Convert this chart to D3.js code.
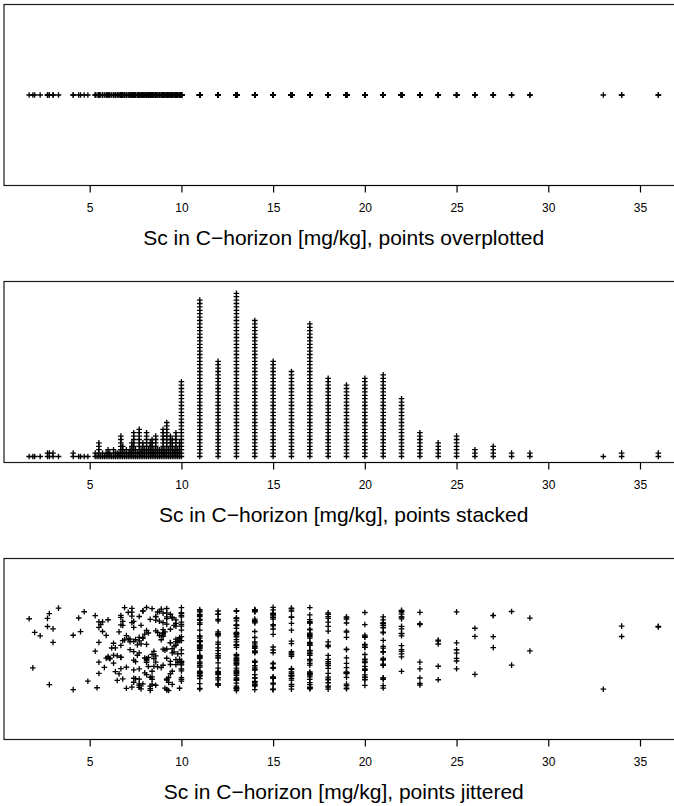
<!DOCTYPE html>
<html>
<head>
<meta charset="utf-8">
<script src="https://cdn.jsdelivr.net/npm/d3@7"></script>
<style>
  body { margin: 0; background: #fff; }
  svg { display: block; }
  text { font-family: "Liberation Sans", Arial, Helvetica, sans-serif; fill: #000; }
</style>
</head>
<body>
<svg id="chart" width="674" height="806"></svg>
<script>
// Sc in the C-horizon [mg/kg]: distinct measured values and the number of samples at each
const scValues = [
  1.7, 1.9, 2.0, 2.3, 2.7, 2.8, 3.0, 3.3,
  4.1, 4.4, 4.5, 4.7, 4.9,
  5.3, 5.4, 5.5, 5.6, 5.7, 5.8, 5.9, 6.0, 6.1, 6.2, 6.3, 6.4, 6.5, 6.6, 6.7, 6.8, 6.9, 7.0,
  7.1, 7.2, 7.3, 7.4, 7.5, 7.6, 7.7, 7.8, 7.9, 8.0, 8.1, 8.2, 8.3, 8.4, 8.5, 8.6, 8.7, 8.8, 8.9, 9.0,
  9.1, 9.2, 9.3, 9.4, 9.5, 9.6, 9.7, 9.8, 9.9,
  10, 11, 12, 13, 14, 15, 16, 17, 18, 19, 20, 21, 22, 23, 24, 25, 26, 27, 28, 29, 33, 34, 36
];
const scCounts = [
  1, 1, 1, 1, 2, 2, 2, 1,
  2, 1, 1, 1, 1,
  2, 1, 5, 1, 2, 1, 2, 3, 2, 1, 3, 2, 2, 2, 7, 4, 2, 3,
  2, 3, 5, 8, 3, 2, 9, 3, 5, 3, 8, 3, 5, 6, 3, 7, 3, 3, 3, 9,
  3, 11, 3, 7, 6, 3, 8, 3, 5,
  23, 47, 29, 49, 41, 29, 26, 40, 24, 22, 24, 25, 18, 8, 5, 7, 3, 4, 2, 2, 1, 2, 2
];
const xTicks = [5, 10, 15, 20, 25, 30, 35];
const panelTitles = [
  "Sc in C\u2212horizon [mg/kg], points overplotted",
  "Sc in C\u2212horizon [mg/kg], points stacked",
  "Sc in C\u2212horizon [mg/kg], points jittered"
];

const svg = d3.select("#chart");

// one record per sample; "level" is its position within a stack of equal values
const samples = [];
scValues.forEach((v, i) => {
  for (let k = 0; k < scCounts[i]; k++) samples.push({ value: v, level: k });
});

// jitter offsets for the third strip (seeded so the page is reproducible)
const rng = d3.randomLcg(0.4271);
samples.forEach(d => { d.jit = rng() * 2 - 1; });

// x range padded by 4% on each side
const [lo, hi] = d3.extent(scValues);
const pad = (hi - lo) * 0.04;
const x = d3.scaleLinear().domain([lo - pad, hi + pad]).range([4, 683.5]);

const boxTops = [4.5, 281.5, 558.5];
const boxH = 181;
const cross = "M-2.8,0H2.8M0,-2.8V2.8";

boxTops.forEach((top, p) => {
  const bottom = top + boxH;
  const g = svg.append("g");

  // marks
  const marks = g.append("g")
    .attr("fill", "none").attr("stroke", "#000").attr("stroke-width", 1.3);

  if (p === 0) {
    const y = d3.scaleLinear().domain([-1, 1]).range([bottom, top]);
    marks.selectAll("path").data(samples).join("path")
      .attr("d", cross)
      .attr("transform", d => `translate(${x(d.value)},${y(0)})`);
  } else if (p === 1) {
    // stacked: level 0 sits just above the frame, each further sample one step higher
    const y = d3.scaleLinear().domain([0, 50]).range([bottom - 6, bottom - 6 - 170]);
    marks.selectAll("path").data(samples).join("path")
      .attr("d", cross)
      .attr("transform", d => `translate(${x(d.value)},${y(d.level)})`);
  } else {
    const y = d3.scaleLinear().domain([-1, 1]).range([bottom, top]);
    marks.selectAll("path").data(samples).join("path")
      .attr("d", cross)
      .attr("transform", d => `translate(${x(d.value)},${y(d.jit * 0.46)})`);
  }

  // frame
  g.append("rect")
    .attr("x", x.range()[0]).attr("y", top)
    .attr("width", x.range()[1] - x.range()[0]).attr("height", boxH)
    .attr("fill", "none").attr("stroke", "#1a1a1a").attr("stroke-width", 1.2);

  // axis
  const axis = d3.axisBottom(x).tickValues(xTicks).tickSize(7).tickPadding(11)
    .tickFormat(d3.format("d"));
  const ax = g.append("g").attr("transform", `translate(0,${bottom})`).call(axis);
  ax.select(".domain").remove();
  ax.append("line")
    .attr("x1", x(xTicks[0])).attr("x2", x(xTicks[xTicks.length - 1]))
    .attr("stroke", "#000").attr("stroke-width", 1.2);
  ax.selectAll(".tick line").attr("stroke", "#000").attr("stroke-width", 1.2);
  ax.selectAll(".tick text")
    .style("font-family", "'Liberation Sans', Arial, sans-serif")
    .style("font-size", "12px").attr("fill", "#000");

  // axis title
  g.append("text")
    .attr("x", (x.range()[0] + x.range()[1]) / 2)
    .attr("y", bottom + 59)
    .attr("text-anchor", "middle")
    .style("font-size", "21px")
    .text(panelTitles[p]);
});
</script>
</body>
</html>
